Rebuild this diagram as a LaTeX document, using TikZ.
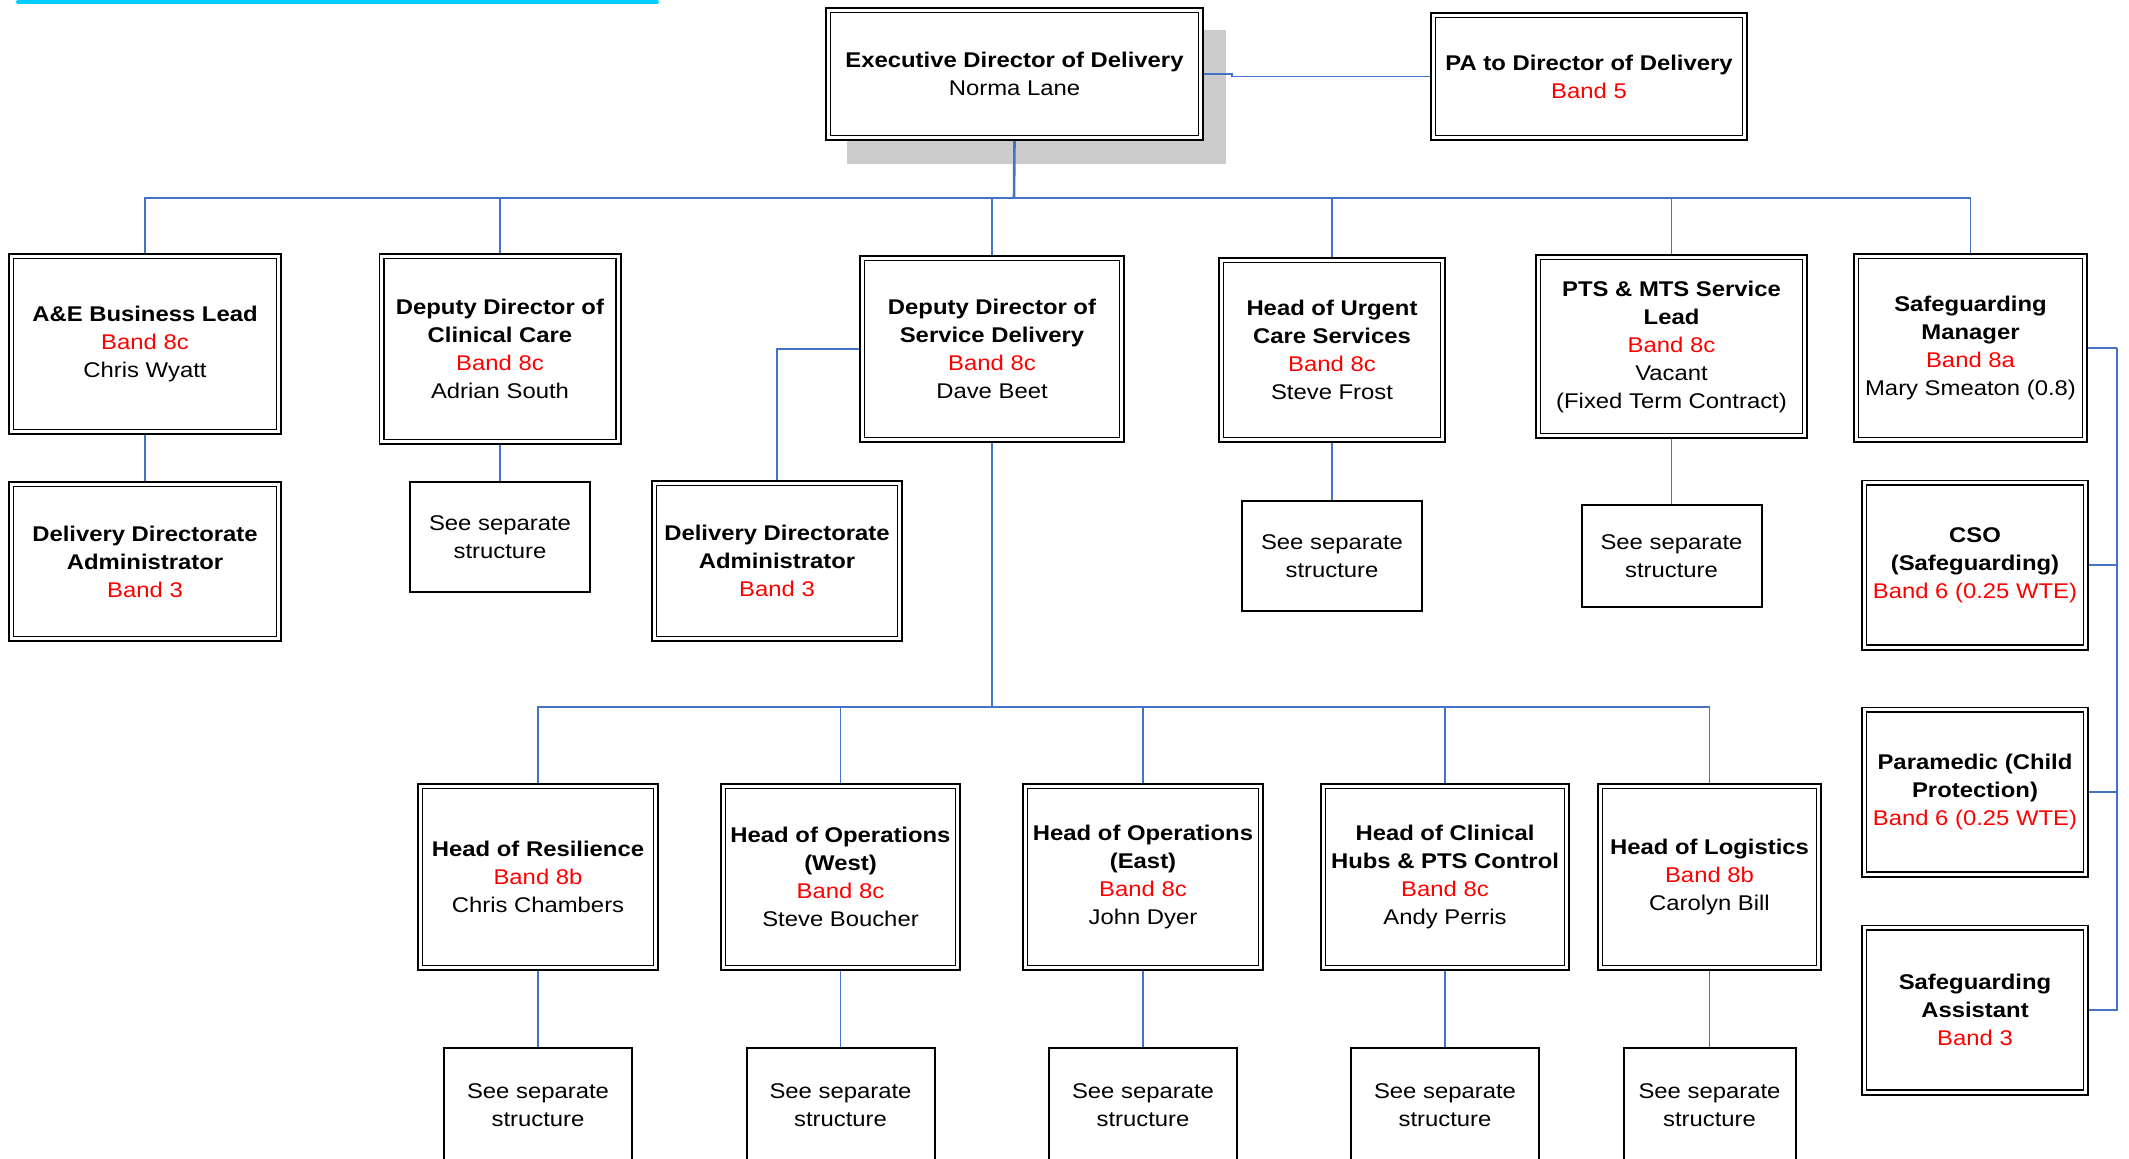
\documentclass[tikz,border=0pt]{standalone}
\usepackage{fontspec}
\setmainfont{Liberation Sans}[FakeStretch=1.12]
\usetikzlibrary{backgrounds}
\definecolor{linkblue}{RGB}{68,114,196}
\definecolor{shadowgray}{RGB}{204,204,204}
\definecolor{topcyan}{RGB}{0,204,255}
\newcommand{\bandtext}[1]{\textcolor{red}{#1}}
\begin{document}
\begin{tikzpicture}[x=1pt, y=-1pt,
  every node/.style={font=\fontsize{21.3}{28}\selectfont},
  post/.style 2 args={draw=black, double=white, line width=1.8pt, double distance=2.8pt,
    fill=white, inner sep=0pt, outer sep=3.2pt, align=center,
    minimum width=#1pt-6.4pt, minimum height=#2pt-6.4pt},
  sepbox/.style 2 args={draw=black, line width=2pt, fill=white, inner sep=0pt,
    align=center, minimum width=#1pt-2pt, minimum height=#2pt-2pt},
  link/.style={linkblue, line width=1.6pt},
  trunk/.style={linkblue, line width=2.6pt}]
\useasboundingbox (0,0) rectangle (2129,1159);
\clip (0,0) rectangle (2129,1159);
\draw[topcyan, line width=4pt, line cap=round] (18,2) -- (657,2);
% top
\node[post={379}{134}] (P_0_0) at (1014.5,74) {\textbf{Executive Director of Delivery}\\Norma Lane};
\begin{scope}[on background layer]
\fill[shadowgray] ([shift={(22,23)}]P_0_0.south west) rectangle ([shift={(22,23)}]P_0_0.north east);
\end{scope}
\node[post={318}{129}] (P_0_1) at (1589,76.5) {\textbf{PA to Director of Delivery}\\\bandtext{Band 5}};
\draw[link] (P_0_0.east) -- ++(28,0) |- (P_0_1.west);
\coordinate (B_1) at (1014,198);
\draw[trunk] (P_0_0.south) -- (B_1);
% first row
\node[post={274}{182}] (P_1_0) at (145,344) {\textbf{A\&E Business Lead}\\\bandtext{Band 8c}\\Chris Wyatt};
\draw[link] (B_1) -| (P_1_0.north);
\node[post={243}{192}] (P_1_1) at (500,349) {\textbf{Deputy Director of}\\\textbf{Clinical Care}\\\bandtext{Band 8c}\\Adrian South};
\draw[link] (B_1) -| (P_1_1.north);
\node[post={266}{188}] (P_1_2) at (992,349) {\textbf{Deputy Director of}\\\textbf{Service Delivery}\\\bandtext{Band 8c}\\Dave Beet};
\draw[link] (B_1) -| (P_1_2.north);
\node[post={228}{186}] (P_1_3) at (1332,350) {\textbf{Head of Urgent}\\\textbf{Care Services}\\\bandtext{Band 8c}\\Steve Frost};
\draw[link] (B_1) -| (P_1_3.north);
\node[post={273}{185}] (P_1_4) at (1671.5,346.5) {\textbf{PTS \& MTS Service}\\\textbf{Lead}\\\bandtext{Band 8c}\\Vacant\\(Fixed Term Contract)};
\draw[link] (B_1) -| (P_1_4.north);
\node[post={235}{190}] (P_1_5) at (1970.5,348) {\textbf{Safeguarding}\\\textbf{Manager}\\\bandtext{Band 8a}\\Mary Smeaton (0.8)};
\draw[link] (B_1) -| (P_1_5.north);
% second row
\node[post={274}{161}] (P_2_0) at (145,561.5) {\textbf{Delivery Directorate}\\\textbf{Administrator}\\\bandtext{Band 3}};
\draw[link] (P_1_0.south) -- (P_2_0.north);
\node[sepbox={182}{112}] (P_2_1) at (500,537) {See separate\\structure};
\draw[link] (P_1_1.south) -- (P_2_1.north);
\node[post={252}{162}] (P_2_2) at (777,561) {\textbf{Delivery Directorate}\\\textbf{Administrator}\\\bandtext{Band 3}};
\draw[link] (P_1_2.west) -| (P_2_2.north);
\node[sepbox={182}{112}] (P_2_3) at (1332,556) {See separate\\structure};
\draw[link] (P_1_3.south) -- (P_2_3.north);
\node[sepbox={182}{104}] (P_2_4) at (1671.5,556) {See separate\\structure};
\draw[link] (P_1_4.south) -- (P_2_4.north);
% safeguarding team
\coordinate (S_0) at (2117,348);
\draw[link] (P_1_5.east) -- (S_0);
\node[post={228}{171}] (P_2_5) at (1975,565) {\textbf{CSO}\\\textbf{(Safeguarding)}\\\bandtext{Band 6 (0.25 WTE)}};
\draw[link] (S_0) |- (P_2_5.east);
\node[post={228}{171}] (P_3_5) at (1975,792) {\textbf{Paramedic (Child}\\\textbf{Protection)}\\\bandtext{Band 6 (0.25 WTE)}};
\draw[link] (S_0) |- (P_3_5.east);
\node[post={228}{171}] (P_4_5) at (1975,1010) {\textbf{Safeguarding}\\\textbf{Assistant}\\\bandtext{Band 3}};
\draw[link] (S_0) |- (P_4_5.east);
% third row
\coordinate (B_3) at (992,707);
\draw[trunk] (P_1_2.south) -- (B_3);
\node[post={242}{188}] (P_3_0) at (538,877) {\textbf{Head of Resilience}\\\bandtext{Band 8b}\\Chris Chambers};
\draw[link] (B_3) -| (P_3_0.north);
\node[post={241}{188}] (P_3_1) at (840.5,877) {\textbf{Head of Operations}\\\textbf{(West)}\\\bandtext{Band 8c}\\Steve Boucher};
\draw[link] (B_3) -| (P_3_1.north);
\node[post={242}{188}] (P_3_2) at (1143,877) {\textbf{Head of Operations}\\\textbf{(East)}\\\bandtext{Band 8c}\\John Dyer};
\draw[link] (B_3) -| (P_3_2.north);
\node[post={250}{188}] (P_3_3) at (1445,877) {\textbf{Head of Clinical}\\\textbf{Hubs \& PTS Control}\\\bandtext{Band 8c}\\Andy Perris};
\draw[link] (B_3) -| (P_3_3.north);
\node[post={225}{188}] (P_3_4) at (1709.5,877) {\textbf{Head of Logistics}\\\bandtext{Band 8b}\\Carolyn Bill};
\draw[link] (B_3) -| (P_3_4.north);
% fourth row
\node[sepbox={190}{116}] (P_4_0) at (538,1105) {See separate\\structure};
\draw[link] (P_3_0.south) -- (P_4_0.north);
\node[sepbox={190}{116}] (P_4_1) at (840.5,1105) {See separate\\structure};
\draw[link] (P_3_1.south) -- (P_4_1.north);
\node[sepbox={190}{116}] (P_4_2) at (1143,1105) {See separate\\structure};
\draw[link] (P_3_2.south) -- (P_4_2.north);
\node[sepbox={190}{116}] (P_4_3) at (1445,1105) {See separate\\structure};
\draw[link] (P_3_3.south) -- (P_4_3.north);
\node[sepbox={174}{116}] (P_4_4) at (1709.5,1105) {See separate\\structure};
\draw[link] (P_3_4.south) -- (P_4_4.north);
\end{tikzpicture}
\end{document}
